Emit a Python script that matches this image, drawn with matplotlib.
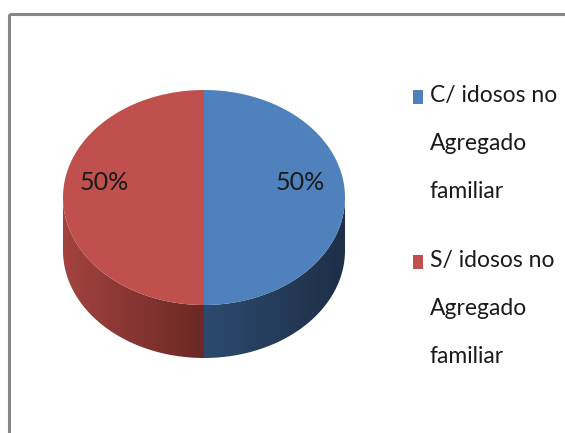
import numpy as np
import matplotlib.pyplot as plt
from matplotlib.patches import Polygon, Rectangle
from matplotlib.colors import LinearSegmentedColormap

# data
labels = ['C/ idosos no\nAgregado\nfamiliar', 'S/ idosos no\nAgregado\nfamiliar']
values = [50, 50]
pct_labels = ['50%', '50%']
top_colors = ['#4F81BD', '#C0504D']
side_colors = [('#2c4a6e', '#1e2f47'), ('#a3433f', '#6b2826')]

plt.rcParams['font.family'] = ['Lato', 'DejaVu Sans']

fig = plt.figure(figsize=(5.65, 4.33), dpi=100)
ax = fig.add_axes([0, 0, 1, 1])
ax.set_xlim(0, 565)
ax.set_ylim(433, 0)
ax.axis('off')

# chart border (right/bottom cut off)
ax.add_patch(Rectangle((9, 13.5), 600, 500, fill=False, edgecolor='#878787', lw=2.2))

cx, cy, rx, ry, depth = 204, 197.5, 141, 107.5, 53


def ell(t, dy=0):
    return cx + rx * np.cos(t), cy - ry * np.sin(t) + dy


fracs = np.array(values) / sum(values)
start = np.pi / 2
for i, f in enumerate(fracs):
    end = start - 2 * np.pi * f
    t = np.linspace(start, end, 400)
    # side wall: visible front part
    ts = t[np.sin(t) <= 1e-9]
    if len(ts) > 1:
        x1, y1 = ell(ts)
        x2, y2 = ell(ts[::-1], depth)
        side = Polygon(np.column_stack([np.r_[x1, x2], np.r_[y1, y2]]), closed=True,
                       facecolor='none', edgecolor='none')
        ax.add_patch(side)
        c0, c1 = side_colors[i]
        x_lo, x_hi = x1.min(), x1.max()
        grad = np.linspace(0, 1, 256)[None, :]
        cmap = LinearSegmentedColormap.from_list('s%d' % i, [c0, c1])
        im = ax.imshow(grad, cmap=cmap, aspect='auto', interpolation='bilinear',
                       extent=(x_lo, x_hi, cy + ry + depth + 5, cy - 5), zorder=2)
        im.set_clip_path(side)
    # top face
    xt, yt = ell(t)
    top = Polygon(np.column_stack([np.r_[cx, xt], np.r_[cy, yt]]), closed=True,
                  facecolor=top_colors[i], edgecolor='none', zorder=3)
    ax.add_patch(top)
    start = end

ax.set_xlim(0, 565)
ax.set_ylim(433, 0)

# percentage labels
ax.text(300, 182, pct_labels[0], fontsize=18, color='#1a1a1a', ha='center', va='center', zorder=5)
ax.text(104, 182, pct_labels[1], fontsize=18, color='#1a1a1a', ha='center', va='center', zorder=5)

# legend
leg_y = [97, 262]
for i in range(len(labels)):
    ax.add_patch(Rectangle((413, leg_y[i] - 7), 10, 14, facecolor=top_colors[i], edgecolor='none'))
    ax.text(430, leg_y[i] - 12, labels[i], fontsize=16.5, color='#1a1a1a', ha='left', va='top',
            linespacing=2.6)

fig.savefig('out.png', dpi=100)
